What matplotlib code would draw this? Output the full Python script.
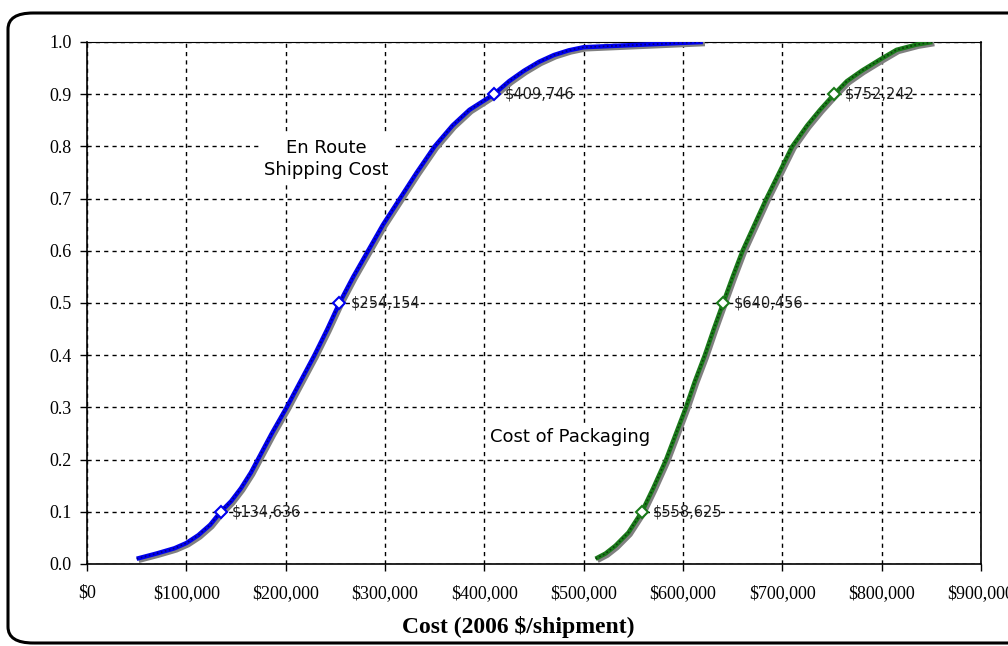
import matplotlib.pyplot as plt
import matplotlib.patheffects as pe
from matplotlib.patches import FancyBboxPatch
from matplotlib.ticker import FuncFormatter

# cumulative probability curves
ship_cost = [50000, 70000, 88000, 100000, 112000, 124000, 134636, 145000,
             155000, 165000, 172000, 186000, 201000, 215000, 229000, 242000,
             254154, 268000, 283000, 298000, 315000, 332000, 350000, 368000,
             385000, 409746, 425000, 440000, 455000, 470000, 485000, 500000,
             560000, 620000]
ship_prob = [0.01, 0.02, 0.03, 0.04, 0.055, 0.075, 0.10, 0.12,
             0.145, 0.175, 0.20, 0.25, 0.30, 0.35, 0.40, 0.45,
             0.50, 0.55, 0.60, 0.65, 0.70, 0.75, 0.80, 0.84,
             0.87, 0.90, 0.925, 0.945, 0.962, 0.975, 0.984, 0.99,
             0.995, 1.0]

pack_cost = [512000, 522000, 532000, 545000, 558625, 570000, 583000, 593000,
             603000, 612000, 622000, 631000, 640456, 650000, 660000, 672000,
             684000, 697000, 710000, 725000, 738000, 752242, 765000, 780000,
             798000, 815000, 835000, 851000]
pack_prob = [0.01, 0.02, 0.035, 0.06, 0.10, 0.145, 0.20, 0.25,
             0.30, 0.35, 0.40, 0.45, 0.50, 0.55, 0.60, 0.65,
             0.70, 0.75, 0.80, 0.84, 0.87, 0.90, 0.925, 0.945,
             0.966, 0.985, 0.995, 1.0]

# labelled percentiles
ship_q = [134636, 254154, 409746]
pack_q = [558625, 640456, 752242]
q_prob = [0.1, 0.5, 0.9]


def main():
    fig = plt.figure(figsize=(10.08, 6.46), dpi=100)
    ax = fig.add_axes([0.0863, 0.127, 0.8869, 0.808])

    shadow = [pe.SimpleLineShadow(offset=(1.5, -1.5), shadow_color="gray", alpha=1.0),
              pe.Normal()]
    ax.plot(ship_cost, ship_prob, color="#0000ee", lw=3.2,
            path_effects=shadow, zorder=3, solid_capstyle="butt")
    ax.plot(ship_cost, ship_prob, color="#000080", lw=1.2, ls=(0, (1, 1.5)), zorder=4)
    ax.plot(pack_cost, pack_prob, color="#1a7a1a", lw=3.2,
            path_effects=shadow, zorder=3, solid_capstyle="butt")
    ax.plot(pack_cost, pack_prob, color="#0c3d0c", lw=1.2, ls=(0, (1, 1.5)), zorder=4)

    ax.plot(ship_q, q_prob, ls="none", marker="D", ms=6.5, mfc="white",
            mec="#0000ee", mew=1.5, zorder=5)
    ax.plot(pack_q, q_prob, ls="none", marker="D", ms=6.5, mfc="white",
            mec="#1a7a1a", mew=1.5, zorder=5)
    for xs in (ship_q, pack_q):
        for x, y in zip(xs, q_prob):
            ax.text(x + 11000, y, f"${x:,}", fontsize=10.5, va="center",
                    ha="left", color="#222222", zorder=6)

    ax.text(241000, 0.776, "En Route\nShipping Cost", fontsize=13,
            ha="center", va="center", linespacing=1.25, zorder=6,
            bbox=dict(facecolor="white", edgecolor="none", pad=3))
    ax.text(486000, 0.243, "Cost of Packaging", fontsize=13,
            ha="center", va="center", zorder=6,
            bbox=dict(facecolor="white", edgecolor="none", pad=3))

    ax.set_xlim(0, 900000)
    ax.set_ylim(0, 1.0)
    ax.set_xticks(range(0, 900001, 100000))
    ax.set_yticks([i / 10 for i in range(11)])
    ax.xaxis.set_major_formatter(FuncFormatter(lambda v, p: f"${int(v):,}"))
    ax.yaxis.set_major_formatter(FuncFormatter(lambda v, p: f"{v:.1f}"))
    for lab in ax.get_xticklabels() + ax.get_yticklabels():
        lab.set_fontfamily("Liberation Serif")
        lab.set_fontsize(13)
    ax.tick_params(direction="out", length=5, width=1, color="black", pad=6)
    ax.tick_params(axis="x", pad=10)
    ax.grid(True, color="black", ls=(0, (3, 3)), lw=1)
    for s in ax.spines.values():
        s.set_color("black")
        s.set_linewidth(1.2)
    ax.spines["top"].set_linewidth(0.8)

    ax.set_xlabel("Cost (2006 $/shipment)", fontfamily="Liberation Serif",
                  fontweight="bold", fontsize=17)
    ax.xaxis.set_label_coords(0.482, -0.1)

    frame = FancyBboxPatch((8 / 1008, 3 / 646), 1040 / 1008, 630 / 646,
                           boxstyle="round,pad=0,rounding_size=0.025",
                           transform=fig.transFigure, fill=False,
                           edgecolor="black", lw=2.2, clip_on=False)
    fig.patches.append(frame)

    fig.savefig("out.png", dpi=100)


if __name__ == "__main__":
    main()
